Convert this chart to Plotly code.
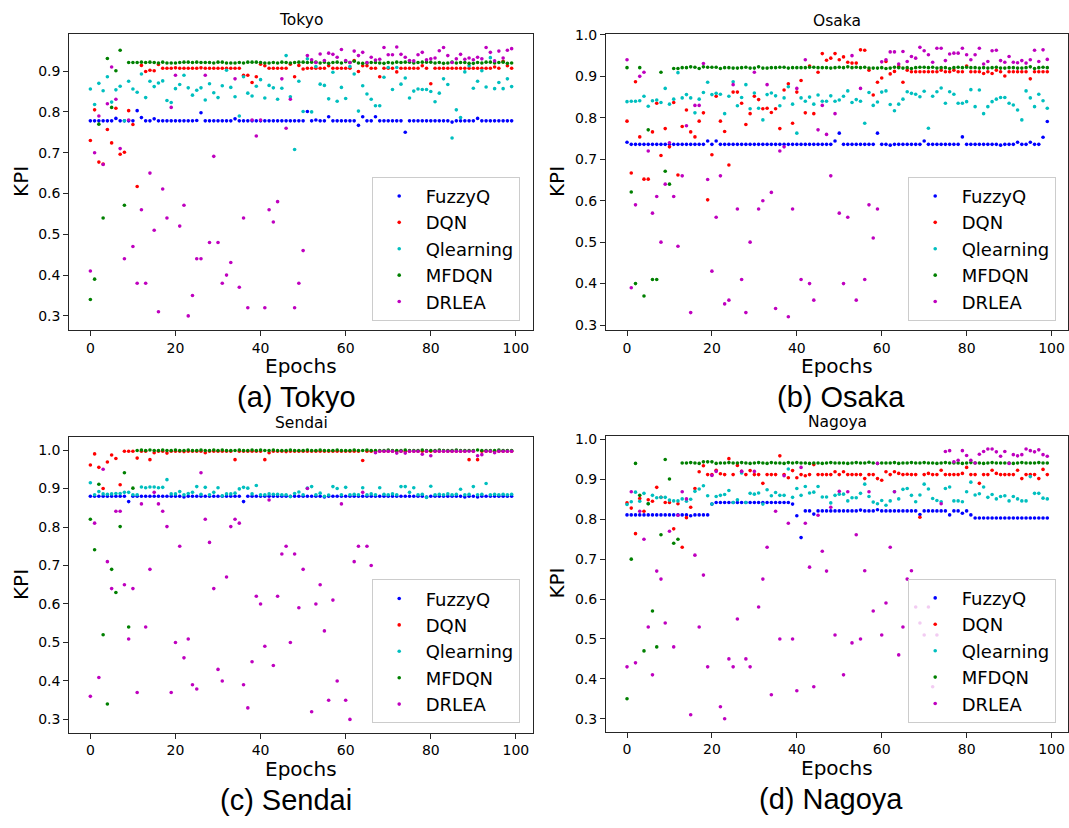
import plotly.graph_objects as go

# ---------------------------------------------------------------- data
epochs = list(range(100))
methods = ["FuzzyQ", "DQN", "Qlearning", "MFDQN", "DRLEA"]
x_ticks = [0, 20, 40, 60, 80, 100]
kpi_ticks = [0.3, 0.4, 0.5, 0.6, 0.7, 0.8, 0.9, 1.0]

# Tokyo
tokyo_fuzzyq = [
    0.778, 0.778, 0.778, 0.778, 0.778, 0.778, 0.784, 0.778, 0.778, 0.778,
    0.778, 0.803, 0.786, 0.778, 0.778, 0.783, 0.778, 0.778, 0.778, 0.778,
    0.778, 0.778, 0.778, 0.778, 0.778, 0.779, 0.798, 0.778, 0.778, 0.778,
    0.778, 0.778, 0.778, 0.778, 0.783, 0.778, 0.778, 0.778, 0.778, 0.778,
    0.778, 0.778, 0.778, 0.778, 0.778, 0.778, 0.778, 0.778, 0.778, 0.778,
    0.778, 0.801, 0.778, 0.780, 0.778, 0.778, 0.788, 0.778, 0.778, 0.778,
    0.778, 0.778, 0.778, 0.767, 0.788, 0.778, 0.778, 0.788, 0.778, 0.778,
    0.778, 0.778, 0.778, 0.778, 0.750, 0.778, 0.778, 0.778, 0.778, 0.778,
    0.778, 0.778, 0.778, 0.778, 0.778, 0.775, 0.778, 0.778, 0.778, 0.778,
    0.778, 0.784, 0.778, 0.778, 0.778, 0.778, 0.778, 0.778, 0.778, 0.778]
tokyo_dqn = [
    0.730, 0.805, 0.677, 0.672, 0.757, 0.724, 0.809, 0.696, 0.701, 0.803,
    0.769, 0.617, 0.914, 0.899, 0.902, 0.901, 0.916, 0.907, 0.907, 0.907,
    0.908, 0.907, 0.907, 0.907, 0.907, 0.907, 0.908, 0.907, 0.907, 0.907,
    0.907, 0.907, 0.907, 0.907, 0.907, 0.907, 0.890, 0.890, 0.872, 0.886,
    0.917, 0.913, 0.907, 0.907, 0.907, 0.907, 0.907, 0.917, 0.886, 0.914,
    0.905, 0.907, 0.907, 0.907, 0.907, 0.907, 0.913, 0.907, 0.907, 0.907,
    0.907, 0.907, 0.926, 0.899, 0.913, 0.913, 0.907, 0.907, 0.886, 0.907,
    0.907, 0.907, 0.898, 0.907, 0.907, 0.907, 0.907, 0.907, 0.913, 0.907,
    0.869, 0.907, 0.907, 0.907, 0.907, 0.907, 0.907, 0.907, 0.907, 0.907,
    0.907, 0.907, 0.907, 0.907, 0.907, 0.910, 0.907, 0.924, 0.913, 0.907]
tokyo_qlearning = [
    0.856, 0.818, 0.870, 0.852, 0.886, 0.824, 0.854, 0.863, 0.778, 0.875,
    0.856, 0.848, 0.893, 0.835, 0.875, 0.862, 0.871, 0.876, 0.828, 0.823,
    0.857, 0.867, 0.890, 0.859, 0.841, 0.853, 0.859, 0.829, 0.869, 0.847,
    0.835, 0.864, 0.902, 0.860, 0.837, 0.790, 0.886, 0.846, 0.839, 0.863,
    0.879, 0.834, 0.865, 0.859, 0.831, 0.858, 0.938, 0.837, 0.708, 0.875,
    0.801, 0.930, 0.800, 0.911, 0.868, 0.865, 0.832, 0.897, 0.826, 0.860,
    0.833, 0.911, 0.893, 0.802, 0.864, 0.844, 0.831, 0.815, 0.815, 0.885,
    0.909, 0.855, 0.909, 0.868, 0.883, 0.834, 0.851, 0.856, 0.855, 0.855,
    0.850, 0.825, 0.846, 0.881, 0.867, 0.736, 0.805, 0.786, 0.898, 0.913,
    0.858, 0.875, 0.901, 0.861, 0.933, 0.857, 0.872, 0.857, 0.881, 0.862]
tokyo_mfdqn = [
    0.340, 0.390, 0.770, 0.540, 0.931, 0.811, 0.901, 0.951, 0.571, 0.921,
    0.921, 0.921, 0.922, 0.921, 0.922, 0.921, 0.920, 0.922, 0.920, 0.920,
    0.920, 0.921, 0.922, 0.922, 0.921, 0.922, 0.921, 0.921, 0.921, 0.920,
    0.922, 0.922, 0.920, 0.920, 0.920, 0.921, 0.920, 0.922, 0.922, 0.922,
    0.921, 0.920, 0.920, 0.921, 0.920, 0.922, 0.921, 0.920, 0.921, 0.922,
    0.922, 0.921, 0.922, 0.922, 0.920, 0.922, 0.919, 0.921, 0.922, 0.920,
    0.923, 0.921, 0.924, 0.920, 0.919, 0.920, 0.921, 0.921, 0.920, 0.919,
    0.921, 0.920, 0.922, 0.921, 0.922, 0.922, 0.920, 0.921, 0.922, 0.922,
    0.922, 0.920, 0.921, 0.919, 0.920, 0.922, 0.920, 0.921, 0.921, 0.919,
    0.919, 0.921, 0.920, 0.922, 0.922, 0.920, 0.921, 0.922, 0.919, 0.920]
tokyo_drlea = [
    0.410, 0.700, 0.790, 0.671, 0.820, 0.910, 0.831, 0.710, 0.440, 0.780,
    0.470, 0.380, 0.560, 0.380, 0.650, 0.510, 0.310, 0.611, 0.540, 0.811,
    0.890, 0.520, 0.571, 0.300, 0.350, 0.440, 0.440, 0.890, 0.480, 0.691,
    0.480, 0.380, 0.400, 0.431, 0.881, 0.370, 0.540, 0.320, 0.780, 0.741,
    0.780, 0.320, 0.560, 0.530, 0.580, 0.881, 0.760, 0.831, 0.320, 0.380,
    0.460, 0.938, 0.928, 0.921, 0.942, 0.926, 0.944, 0.941, 0.934, 0.953,
    0.926, 0.921, 0.949, 0.938, 0.946, 0.921, 0.934, 0.927, 0.929, 0.958,
    0.940, 0.940, 0.959, 0.941, 0.934, 0.926, 0.925, 0.940, 0.946, 0.928,
    0.930, 0.932, 0.950, 0.958, 0.938, 0.921, 0.930, 0.941, 0.929, 0.932,
    0.928, 0.934, 0.930, 0.958, 0.946, 0.925, 0.949, 0.932, 0.951, 0.955]

# Osaka
osaka_fuzzyq = [
    0.741, 0.736, 0.736, 0.736, 0.736, 0.736, 0.736, 0.736, 0.736, 0.736,
    0.736, 0.736, 0.736, 0.736, 0.736, 0.736, 0.736, 0.736, 0.736, 0.744,
    0.736, 0.744, 0.736, 0.736, 0.736, 0.736, 0.736, 0.736, 0.736, 0.736,
    0.736, 0.736, 0.736, 0.736, 0.736, 0.736, 0.736, 0.736, 0.736, 0.736,
    0.736, 0.736, 0.736, 0.736, 0.736, 0.736, 0.736, 0.736, 0.736, 0.744,
    0.763, 0.736, 0.736, 0.736, 0.736, 0.736, 0.736, 0.736, 0.736, 0.763,
    0.736, 0.736, 0.734, 0.736, 0.736, 0.736, 0.736, 0.736, 0.736, 0.736,
    0.744, 0.736, 0.736, 0.736, 0.736, 0.736, 0.736, 0.736, 0.736, 0.754,
    0.736, 0.736, 0.736, 0.736, 0.736, 0.736, 0.736, 0.736, 0.734, 0.736,
    0.736, 0.736, 0.741, 0.736, 0.736, 0.741, 0.736, 0.736, 0.753, 0.791]
osaka_dqn = [
    0.792, 0.667, 0.887, 0.754, 0.652, 0.652, 0.766, 0.835, 0.709, 0.774,
    0.730, 0.837, 0.662, 0.779, 0.819, 0.766, 0.754, 0.792, 0.812, 0.602,
    0.711, 0.852, 0.792, 0.767, 0.686, 0.862, 0.862, 0.835, 0.784, 0.810,
    0.852, 0.844, 0.822, 0.823, 0.813, 0.822, 0.774, 0.867, 0.882, 0.787,
    0.862, 0.890, 0.812, 0.925, 0.810, 0.910, 0.955, 0.939, 0.944, 0.955,
    0.940, 0.947, 0.934, 0.932, 0.932, 0.964, 0.963, 0.915, 0.855, 0.886,
    0.896, 0.936, 0.906, 0.912, 0.924, 0.886, 0.915, 0.911, 0.911, 0.911,
    0.911, 0.911, 0.911, 0.911, 0.915, 0.911, 0.911, 0.915, 0.911, 0.911,
    0.925, 0.911, 0.911, 0.911, 0.907, 0.911, 0.907, 0.915, 0.911, 0.901,
    0.911, 0.911, 0.911, 0.911, 0.911, 0.894, 0.911, 0.911, 0.911, 0.911]
osaka_qlearning = [
    0.839, 0.840, 0.840, 0.841, 0.852, 0.828, 0.841, 0.843, 0.837, 0.871,
    0.833, 0.845, 0.909, 0.848, 0.856, 0.848, 0.812, 0.845, 0.861, 0.886,
    0.856, 0.859, 0.857, 0.810, 0.852, 0.887, 0.829, 0.849, 0.880, 0.822,
    0.860, 0.823, 0.795, 0.856, 0.860, 0.853, 0.829, 0.848, 0.875, 0.833,
    0.763, 0.848, 0.840, 0.850, 0.833, 0.855, 0.840, 0.840, 0.853, 0.840,
    0.843, 0.852, 0.865, 0.837, 0.844, 0.840, 0.787, 0.861, 0.830, 0.838,
    0.862, 0.865, 0.832, 0.817, 0.833, 0.845, 0.863, 0.859, 0.857, 0.851,
    0.864, 0.775, 0.852, 0.863, 0.872, 0.835, 0.863, 0.857, 0.835, 0.835,
    0.839, 0.868, 0.827, 0.867, 0.810, 0.827, 0.839, 0.845, 0.849, 0.849,
    0.835, 0.831, 0.819, 0.795, 0.865, 0.848, 0.827, 0.857, 0.841, 0.823]
osaka_mfdqn = [
    0.921, 0.621, 0.400, 0.921, 0.370, 0.771, 0.410, 0.410, 0.910, 0.671,
    0.640, 0.919, 0.919, 0.921, 0.921, 0.923, 0.922, 0.919, 0.923, 0.922,
    0.922, 0.922, 0.919, 0.921, 0.921, 0.920, 0.920, 0.921, 0.922, 0.920,
    0.920, 0.923, 0.920, 0.920, 0.921, 0.921, 0.922, 0.922, 0.920, 0.921,
    0.921, 0.921, 0.921, 0.922, 0.922, 0.921, 0.921, 0.921, 0.920, 0.921,
    0.922, 0.921, 0.923, 0.921, 0.922, 0.921, 0.922, 0.920, 0.920, 0.920,
    0.921, 0.919, 0.920, 0.922, 0.921, 0.920, 0.921, 0.919, 0.921, 0.922,
    0.922, 0.921, 0.922, 0.920, 0.921, 0.921, 0.919, 0.921, 0.922, 0.921,
    0.922, 0.921, 0.921, 0.920, 0.921, 0.920, 0.921, 0.922, 0.920, 0.920,
    0.921, 0.921, 0.920, 0.920, 0.921, 0.923, 0.919, 0.921, 0.922, 0.921]
osaka_drlea = [
    0.940, 0.390, 0.590, 0.900, 0.910, 0.720, 0.570, 0.610, 0.500, 0.640,
    0.740, 0.610, 0.490, 0.660, 0.781, 0.330, 0.830, 0.830, 0.931, 0.651,
    0.430, 0.560, 0.660, 0.351, 0.360, 0.880, 0.580, 0.410, 0.330, 0.500,
    0.910, 0.580, 0.600, 0.880, 0.620, 0.340, 0.720, 0.730, 0.320, 0.580,
    0.871, 0.410, 0.940, 0.400, 0.360, 0.771, 0.830, 0.760, 0.660, 0.810,
    0.570, 0.400, 0.560, 0.950, 0.360, 0.871, 0.410, 0.590, 0.510, 0.580,
    0.935, 0.940, 0.959, 0.959, 0.930, 0.960, 0.936, 0.948, 0.944, 0.970,
    0.962, 0.952, 0.934, 0.968, 0.968, 0.938, 0.954, 0.956, 0.956, 0.968,
    0.952, 0.940, 0.952, 0.968, 0.930, 0.936, 0.962, 0.963, 0.938, 0.934,
    0.948, 0.934, 0.933, 0.938, 0.932, 0.940, 0.963, 0.936, 0.964, 0.941]

# Sendai
sendai_fuzzyq = [
    0.880, 0.880, 0.880, 0.880, 0.880, 0.880, 0.880, 0.880, 0.880, 0.866,
    0.880, 0.880, 0.880, 0.880, 0.880, 0.880, 0.880, 0.880, 0.880, 0.880,
    0.880, 0.880, 0.878, 0.880, 0.880, 0.880, 0.880, 0.880, 0.880, 0.880,
    0.880, 0.880, 0.880, 0.880, 0.880, 0.880, 0.866, 0.880, 0.880, 0.880,
    0.880, 0.880, 0.880, 0.880, 0.880, 0.880, 0.880, 0.880, 0.880, 0.880,
    0.880, 0.880, 0.880, 0.880, 0.880, 0.878, 0.880, 0.880, 0.880, 0.880,
    0.880, 0.880, 0.880, 0.880, 0.880, 0.880, 0.880, 0.880, 0.880, 0.880,
    0.880, 0.880, 0.880, 0.880, 0.880, 0.880, 0.880, 0.880, 0.880, 0.878,
    0.880, 0.880, 0.880, 0.880, 0.880, 0.880, 0.880, 0.880, 0.878, 0.880,
    0.880, 0.878, 0.880, 0.880, 0.880, 0.880, 0.880, 0.880, 0.880, 0.880]
sendai_dqn = [
    0.961, 0.990, 0.955, 0.900, 0.969, 0.987, 0.978, 0.910, 0.997, 0.997,
    0.997, 0.979, 0.997, 0.997, 0.975, 0.993, 0.997, 0.997, 0.992, 0.997,
    0.997, 0.997, 0.996, 0.997, 0.997, 0.997, 0.997, 0.993, 0.997, 0.997,
    0.997, 0.997, 0.997, 0.997, 0.975, 0.997, 0.997, 0.997, 0.997, 0.997,
    0.997, 0.975, 0.993, 0.997, 0.997, 0.997, 0.996, 0.997, 0.997, 0.997,
    0.997, 0.997, 0.997, 0.997, 0.997, 0.997, 0.997, 0.997, 0.997, 0.997,
    0.997, 0.997, 0.997, 0.997, 0.973, 0.997, 0.997, 0.997, 0.997, 0.997,
    0.997, 0.997, 0.997, 0.997, 0.997, 0.997, 0.997, 0.997, 0.997, 0.997,
    0.997, 0.997, 0.997, 0.997, 0.997, 0.997, 0.997, 0.997, 0.997, 0.975,
    0.997, 0.975, 0.997, 0.997, 0.997, 0.997, 0.997, 0.997, 0.997, 0.997]
sendai_qlearning = [
    0.915, 0.884, 0.892, 0.886, 0.885, 0.886, 0.887, 0.887, 0.890, 0.890,
    0.884, 0.884, 0.904, 0.902, 0.904, 0.904, 0.902, 0.903, 0.923, 0.886,
    0.886, 0.892, 0.884, 0.887, 0.890, 0.905, 0.885, 0.903, 0.884, 0.890,
    0.902, 0.881, 0.886, 0.886, 0.888, 0.899, 0.903, 0.901, 0.886, 0.908,
    0.884, 0.884, 0.886, 0.885, 0.885, 0.884, 0.884, 0.879, 0.887, 0.891,
    0.884, 0.901, 0.905, 0.884, 0.888, 0.880, 0.883, 0.905, 0.900, 0.884,
    0.903, 0.884, 0.885, 0.884, 0.902, 0.884, 0.886, 0.884, 0.902, 0.885,
    0.884, 0.886, 0.884, 0.905, 0.905, 0.890, 0.902, 0.884, 0.885, 0.877,
    0.906, 0.884, 0.885, 0.884, 0.886, 0.884, 0.885, 0.898, 0.884, 0.885,
    0.905, 0.884, 0.885, 0.913, 0.884, 0.885, 0.884, 0.885, 0.884, 0.885]
sendai_mfdqn = [
    0.820, 0.741, 0.911, 0.520, 0.340, 0.690, 0.630, 0.801, 0.941, 0.540,
    0.901, 0.999, 1.000, 0.999, 1.000, 0.999, 0.999, 1.000, 0.999, 0.999,
    1.000, 0.999, 0.999, 1.000, 0.999, 0.999, 1.000, 0.999, 0.999, 1.000,
    0.999, 1.000, 0.999, 0.999, 0.999, 1.000, 0.999, 0.999, 1.000, 0.999,
    1.000, 0.999, 0.999, 1.000, 0.999, 0.999, 0.999, 1.000, 0.999, 0.999,
    0.999, 1.000, 0.999, 0.999, 1.000, 0.999, 0.999, 0.999, 1.000, 0.999,
    0.999, 0.999, 1.000, 0.999, 0.999, 1.000, 0.999, 0.999, 0.999, 0.999,
    1.000, 0.999, 0.999, 0.999, 1.000, 0.999, 0.999, 0.999, 1.000, 0.999,
    0.999, 0.999, 1.000, 0.999, 0.999, 0.999, 1.000, 0.999, 0.999, 0.999,
    0.999, 1.000, 0.999, 0.999, 0.999, 0.999, 1.000, 0.999, 0.999, 0.999]
sendai_drlea = [
    0.360, 0.810, 0.409, 0.950, 0.710, 0.640, 0.841, 0.841, 0.650, 0.509,
    0.640, 0.370, 0.860, 0.540, 0.690, 0.890, 0.860, 0.841, 0.801, 0.370,
    0.500, 0.750, 0.460, 0.509, 0.390, 0.379, 0.941, 0.820, 0.760, 0.640,
    0.430, 0.400, 0.670, 0.801, 0.820, 0.810, 0.390, 0.330, 0.450, 0.620,
    0.600, 0.490, 0.870, 0.440, 0.620, 0.730, 0.750, 0.500, 0.730, 0.590,
    0.690, 0.900, 0.320, 0.600, 0.650, 0.530, 0.350, 0.610, 0.400, 0.860,
    0.350, 0.300, 0.710, 0.750, 0.890, 0.750, 0.700, 0.993, 0.997, 0.997,
    0.997, 0.997, 0.992, 0.997, 0.992, 0.997, 0.997, 0.997, 0.989, 0.997,
    0.985, 0.997, 0.997, 0.997, 0.997, 0.997, 0.997, 0.997, 0.997, 0.997,
    0.997, 0.985, 0.988, 0.997, 0.997, 0.993, 0.997, 0.997, 0.997, 0.997]

# Nagoya
nagoya_fuzzyq = [
    0.811, 0.811, 0.811, 0.811, 0.811, 0.811, 0.811, 0.811, 0.811, 0.811,
    0.811, 0.811, 0.811, 0.811, 0.811, 0.809, 0.811, 0.811, 0.811, 0.811,
    0.838, 0.842, 0.842, 0.842, 0.842, 0.842, 0.842, 0.842, 0.842, 0.842,
    0.842, 0.842, 0.842, 0.842, 0.842, 0.842, 0.842, 0.842, 0.842, 0.838,
    0.809, 0.754, 0.821, 0.821, 0.813, 0.821, 0.821, 0.821, 0.821, 0.821,
    0.821, 0.821, 0.821, 0.821, 0.821, 0.823, 0.821, 0.821, 0.821, 0.824,
    0.821, 0.821, 0.821, 0.821, 0.821, 0.821, 0.821, 0.821, 0.821, 0.812,
    0.821, 0.821, 0.821, 0.821, 0.821, 0.821, 0.811, 0.821, 0.821, 0.815,
    0.821, 0.811, 0.803, 0.803, 0.803, 0.803, 0.803, 0.803, 0.803, 0.803,
    0.803, 0.803, 0.803, 0.803, 0.803, 0.803, 0.803, 0.803, 0.803, 0.803]
nagoya_dqn = [
    0.841, 0.828, 0.764, 0.852, 0.820, 0.849, 0.845, 0.880, 0.855, 0.842,
    0.842, 0.776, 0.839, 0.730, 0.804, 0.830, 0.877, 0.919, 0.934, 0.912,
    0.912, 0.923, 0.914, 0.912, 0.952, 0.912, 0.935, 0.920, 0.912, 0.922,
    0.912, 0.912, 0.890, 0.912, 0.912, 0.912, 0.959, 0.912, 0.904, 0.922,
    0.904, 0.912, 0.909, 0.912, 0.937, 0.912, 0.912, 0.912, 0.912, 0.919,
    0.912, 0.919, 0.912, 0.912, 0.912, 0.912, 0.902, 0.912, 0.912, 0.902,
    0.898, 0.919, 0.912, 0.919, 0.915, 0.912, 0.913, 0.912, 0.912, 0.805,
    0.912, 0.915, 0.912, 0.912, 0.923, 0.912, 0.912, 0.912, 0.912, 0.915,
    0.930, 0.912, 0.912, 0.890, 0.912, 0.912, 0.923, 0.915, 0.912, 0.912,
    0.912, 0.912, 0.923, 0.902, 0.912, 0.912, 0.912, 0.902, 0.925, 0.912]
nagoya_qlearning = [
    0.837, 0.844, 0.868, 0.845, 0.865, 0.839, 0.860, 0.854, 0.855, 0.855,
    0.848, 0.846, 0.846, 0.851, 0.845, 0.850, 0.870, 0.876, 0.884, 0.859,
    0.838, 0.857, 0.860, 0.862, 0.872, 0.842, 0.849, 0.916, 0.842, 0.865,
    0.863, 0.866, 0.838, 0.874, 0.859, 0.867, 0.860, 0.860, 0.926, 0.855,
    0.877, 0.860, 0.882, 0.866, 0.868, 0.882, 0.856, 0.856, 0.841, 0.860,
    0.863, 0.863, 0.846, 0.854, 0.854, 0.865, 0.888, 0.857, 0.843, 0.839,
    0.847, 0.835, 0.846, 0.869, 0.851, 0.875, 0.877, 0.860, 0.844, 0.861,
    0.888, 0.876, 0.852, 0.847, 0.844, 0.877, 0.881, 0.846, 0.846, 0.844,
    0.869, 0.893, 0.861, 0.864, 0.881, 0.855, 0.862, 0.851, 0.857, 0.859,
    0.846, 0.857, 0.851, 0.846, 0.846, 0.907, 0.865, 0.865, 0.853, 0.851]
nagoya_mfdqn = [
    0.350, 0.700, 0.940, 0.860, 0.470, 0.839, 0.570, 0.480, 0.761, 0.950,
    0.901, 0.740, 0.750, 0.941, 0.941, 0.942, 0.941, 0.940, 0.944, 0.944,
    0.944, 0.940, 0.941, 0.941, 0.942, 0.941, 0.941, 0.942, 0.941, 0.940,
    0.941, 0.942, 0.941, 0.940, 0.942, 0.941, 0.941, 0.940, 0.942, 0.941,
    0.942, 0.941, 0.941, 0.940, 0.941, 0.941, 0.940, 0.941, 0.942, 0.941,
    0.941, 0.941, 0.940, 0.941, 0.942, 0.941, 0.941, 0.943, 0.941, 0.940,
    0.941, 0.941, 0.941, 0.942, 0.940, 0.941, 0.941, 0.942, 0.941, 0.941,
    0.942, 0.941, 0.941, 0.940, 0.941, 0.942, 0.941, 0.941, 0.941, 0.940,
    0.941, 0.942, 0.941, 0.941, 0.940, 0.941, 0.942, 0.941, 0.941, 0.941,
    0.941, 0.940, 0.941, 0.942, 0.941, 0.941, 0.941, 0.942, 0.941, 0.941]
nagoya_drlea = [
    0.430, 0.869, 0.440, 0.820, 0.750, 0.530, 0.410, 0.670, 0.650, 0.540,
    0.770, 0.480, 0.810, 0.869, 0.851, 0.310, 0.710, 0.530, 0.660, 0.430,
    0.910, 0.920, 0.330, 0.300, 0.450, 0.430, 0.550, 0.920, 0.450, 0.430,
    0.920, 0.580, 0.650, 0.730, 0.360, 0.820, 0.500, 0.909, 0.790, 0.500,
    0.370, 0.930, 0.790, 0.680, 0.380, 0.810, 0.720, 0.670, 0.830, 0.510,
    0.870, 0.410, 0.869, 0.490, 0.761, 0.500, 0.671, 0.869, 0.570, 0.940,
    0.510, 0.590, 0.730, 0.869, 0.460, 0.530, 0.650, 0.671, 0.580, 0.540,
    0.510, 0.580, 0.380, 0.510, 0.839, 0.970, 0.972, 0.944, 0.948, 0.972,
    0.960, 0.948, 0.941, 0.963, 0.970, 0.976, 0.976, 0.969, 0.958, 0.970,
    0.940, 0.962, 0.959, 0.962, 0.976, 0.972, 0.969, 0.974, 0.962, 0.958]

colors = ["#0000ff", "#ff0000", "#00bfbf", "#008000", "#bf00bf"]

W, H = 1069, 828


def px(x):
    return x / W


def py(y):
    return 1 - y / H


# panel geometry (pixel boxes) and per-panel settings
panels = [
    dict(city="Tokyo", caption="(a) Tokyo",
         series=[tokyo_fuzzyq, tokyo_dqn, tokyo_qlearning, tokyo_mfdqn, tokyo_drlea],
         box=(69.3, 532.7, 26.0, 326.0), yrange=(0.2662, 0.9918),
         yticks=kpi_ticks[:7], legend_xy=(371.7, 171.0), cap_x=296),
    dict(city="Osaka", caption="(b) Osaka",
         series=[osaka_fuzzyq, osaka_dqn, osaka_qlearning, osaka_mfdqn, osaka_drlea],
         box=(606.0, 1068.3, 26.7, 326.0), yrange=(0.2888, 1.0014),
         yticks=kpi_ticks, legend_xy=(907.7, 171.0), cap_x=841),
    dict(city="Sendai", caption="(c) Sendai",
         series=[sendai_fuzzyq, sendai_dqn, sendai_qlearning, sendai_mfdqn, sendai_drlea],
         box=(69.3, 532.7, 434.7, 734.3), yrange=(0.2659, 1.0341),
         yticks=kpi_ticks, legend_xy=(371.7, 579.0), cap_x=286),
    dict(city="Nagoya", caption="(d) Nagoya",
         series=[nagoya_fuzzyq, nagoya_dqn, nagoya_qlearning, nagoya_mfdqn, nagoya_drlea],
         box=(606.0, 1068.3, 433.3, 733.3), yrange=(0.2678, 1.0099),
         yticks=kpi_ticks, legend_xy=(907.7, 578.4), cap_x=831),
]

fig = go.Figure()
layout = dict(
    width=W, height=H, autosize=False,
    margin=dict(l=0, r=0, t=0, b=0),
    paper_bgcolor="white", plot_bgcolor="white",
    font=dict(family="DejaVu Sans", color="black"),
    annotations=[],
)

axis_common = dict(
    showline=True, linecolor="#262626", linewidth=1.1, mirror=True,
    ticks="outside", ticklen=5, tickwidth=1.1, tickcolor="#262626",
    showgrid=False, zeroline=False,
    tickfont=dict(family="DejaVu Sans", size=14, color="black"),
)

for i, p in enumerate(panels):
    n = "" if i == 0 else str(i + 1)
    xa, ya = "x" + n, "y" + n
    leg = "legend" + n
    x0, x1, y0, y1 = p["box"]

    for name, col, vals in zip(methods, colors, p["series"]):
        fig.add_trace(go.Scatter(
            x=epochs, y=vals, mode="markers", name=name,
            marker=dict(color=col, size=3.6, line=dict(width=0)),
            xaxis=xa, yaxis=ya, legend=leg, hoverinfo="skip",
        ))

    layout["xaxis" + n] = dict(
        axis_common, domain=[px(x0), px(x1)], anchor=ya,
        range=[-4.95, 103.95], tickvals=x_ticks,
    )
    layout["yaxis" + n] = dict(
        axis_common, domain=[py(y1), py(y0)], anchor=xa,
        range=list(p["yrange"]), tickvals=p["yticks"], tickformat=".1f",
    )
    lx, ly = p["legend_xy"]
    layout[leg] = dict(
        x=px(lx), y=py(ly), xanchor="left", yanchor="top",
        bgcolor="rgba(255,255,255,0.8)", bordercolor="#cccccc", borderwidth=1,
        font=dict(family="DejaVu Sans", size=18, color="black"),
        itemwidth=43, tracegroupgap=0,
    )

    cx = (x0 + x1) / 2
    cy = (y0 + y1) / 2
    ann = layout["annotations"]
    ann.append(dict(text=p["city"], x=px(cx), y=py(y0 - 14), xref="paper", yref="paper",
                    showarrow=False, xanchor="center", yanchor="middle",
                    font=dict(family="DejaVu Sans", size=15.5, color="black")))
    ann.append(dict(text="Epochs", x=px(cx), y=py(y1 + 37), xref="paper", yref="paper",
                    showarrow=False, xanchor="center", yanchor="middle",
                    font=dict(family="DejaVu Sans", size=20, color="black")))
    ann.append(dict(text="KPI", x=px(x0 - 49), y=py(cy), xref="paper", yref="paper",
                    showarrow=False, xanchor="center", yanchor="middle", textangle=-90,
                    font=dict(family="DejaVu Sans", size=20, color="black")))
    ann.append(dict(text=p["caption"], x=px(p["cap_x"]), y=py(y1 + 68), xref="paper", yref="paper",
                    showarrow=False, xanchor="center", yanchor="middle",
                    font=dict(family="Liberation Sans", size=29, color="black")))

fig.update_layout(**layout)
fig.write_html("out.html")
